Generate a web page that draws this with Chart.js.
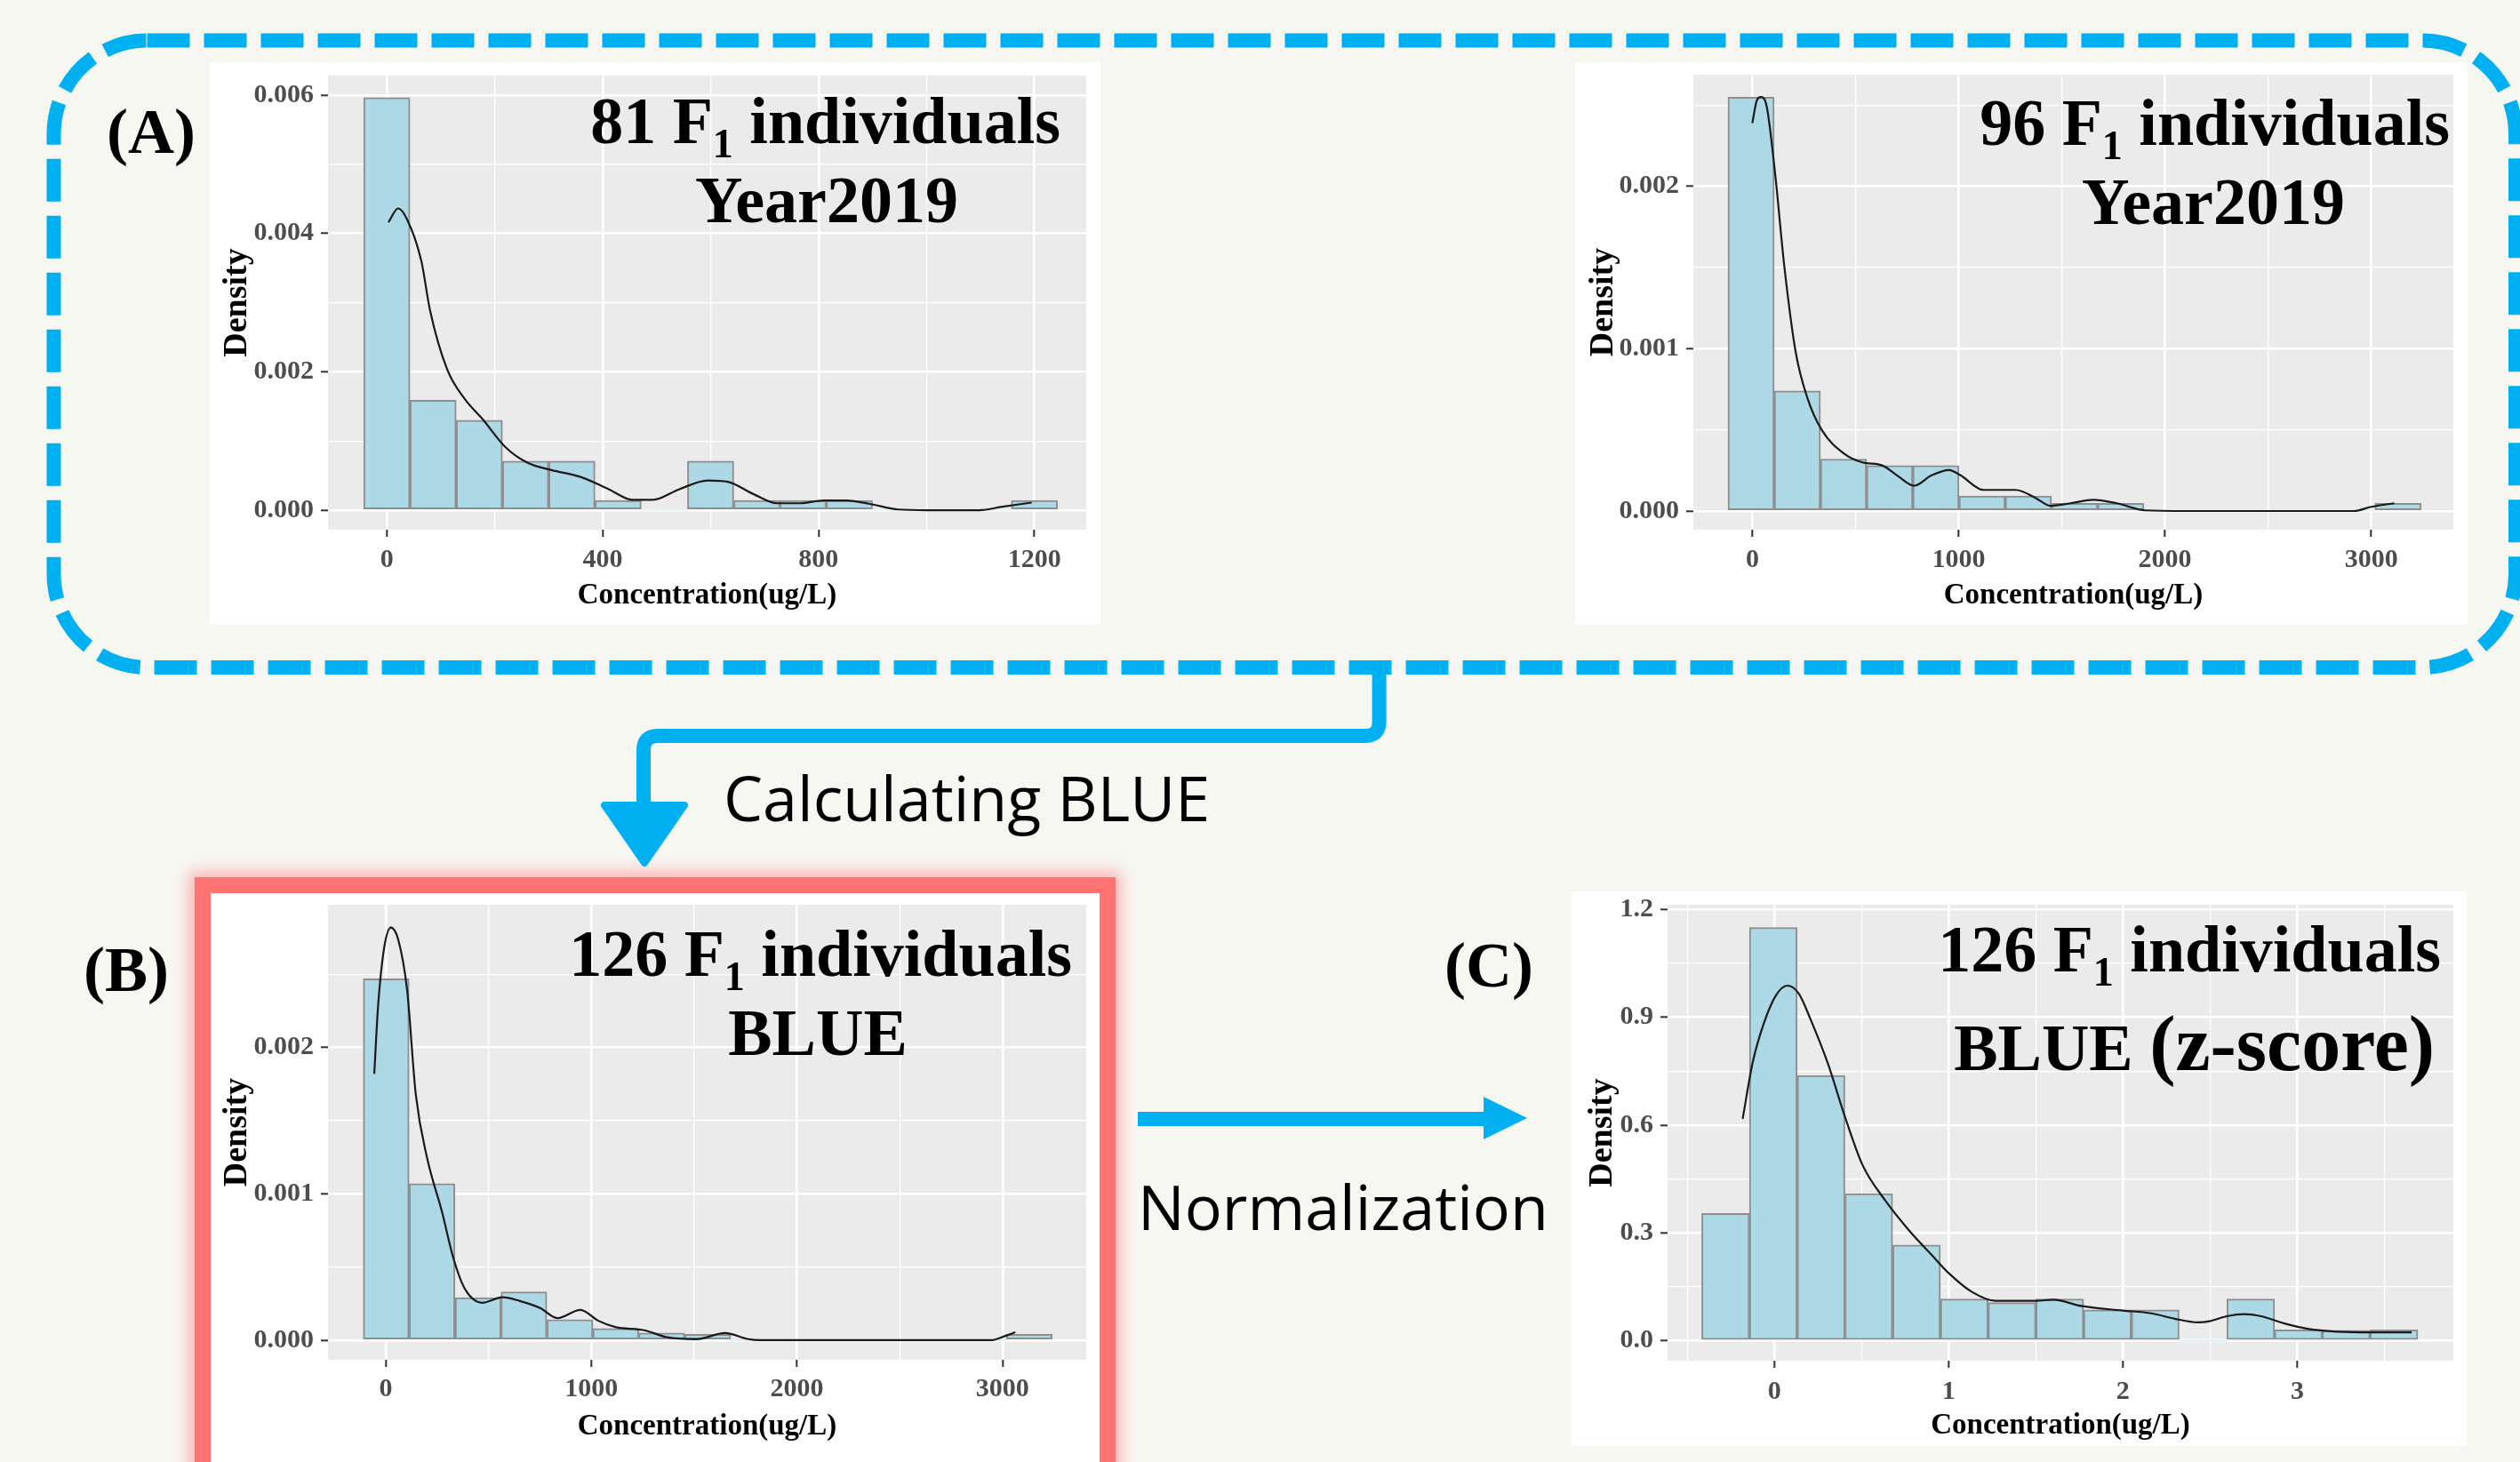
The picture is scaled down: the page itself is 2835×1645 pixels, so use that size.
<!DOCTYPE html>
<html>
<head>
<meta charset="utf-8">
<script src="https://cdn.jsdelivr.net/npm/chart.js@4.4.1/dist/chart.umd.min.js"></script>
<style>
  html, body { margin: 0; padding: 0; }
  body { width: 2835px; height: 1645px; position: relative; overflow: hidden; background: #F7F7F2; }
  .card { position: absolute; background: #fff; }
  canvas { position: absolute; }
  #redBox { position: absolute; left: 219px; top: 987px; width: 1036px; height: 690px; box-sizing: border-box;
            border: 18px solid #FF7373; background: #fff; box-shadow: 0 0 16px 6px rgba(255, 120, 120, 0.55); }
  #overlay { position: absolute; left: 0; top: 0; pointer-events: none; }
  .serif { font-family: "Liberation Serif", "Times New Roman", serif; font-weight: bold; fill: #000; }
  .sans { font-family: "Open Sans", sans-serif; fill: #000; }
</style>
</head>
<body>
<div class="card" style="left:236px;top:70px;width:1002px;height:633px"></div>
<div class="card" style="left:1772px;top:70px;width:1004px;height:633px"></div>
<div id="redBox"></div>
<div class="card" style="left:1768px;top:1003px;width:1007px;height:624px"></div>

<canvas id="chartA1" width="1002" height="648" style="left:236px;top:55px"></canvas>
<canvas id="chartA2" width="1004" height="649" style="left:1772px;top:54px"></canvas>
<canvas id="chartB" width="1000" height="647" style="left:237px;top:988px"></canvas>
<canvas id="chartC" width="1004" height="640" style="left:1772px;top:988px"></canvas>

<svg id="overlay" width="2835" height="1645" xmlns="http://www.w3.org/2000/svg">
  <!-- dashed frame around (A) -->
  <rect x="60.5" y="45.5" width="2769.5" height="705.5" rx="105" ry="105" fill="none"
        stroke="#00B0F0" stroke-width="16" stroke-dasharray="48 16"/>
  <!-- elbow connector down to (B) -->
  <path d="M1551.6 759 V812 Q1551.6 828 1536 828 H740 Q724 828 724 844 V908" fill="none"
        stroke="#00B0F0" stroke-width="16"/>
  <polygon points="680,906 770,906 725,971" fill="#00B0F0" stroke="#00B0F0" stroke-width="8" stroke-linejoin="round"/>
  <!-- arrow (B) -> (C) -->
  <line x1="1280" y1="1259" x2="1672" y2="1259" stroke="#00B0F0" stroke-width="16"/>
  <polygon points="1669,1234 1718,1258 1669,1282" fill="#00B0F0"/>

  <text class="serif" x="120" y="172" font-size="72">(A)</text>
  <text class="serif" x="94" y="1115" font-size="72">(B)</text>
  <text class="serif" x="1625" y="1110" font-size="72">(C)</text>
  <text class="sans" x="814" y="924" font-size="70">Calculating BLUE</text>
  <text class="sans" x="1280" y="1384" font-size="70">Normalization</text>

  <text class="serif" x="1193" y="161" font-size="74" text-anchor="end">81 F<tspan font-size="46" dy="16">1</tspan><tspan dy="-16"> individuals</tspan></text>
  <text class="serif" x="930" y="250" font-size="74" text-anchor="middle">Year2019</text>

  <text class="serif" x="2756" y="163" font-size="74" text-anchor="end">96 F<tspan font-size="46" dy="16">1</tspan><tspan dy="-16"> individuals</tspan></text>
  <text class="serif" x="2490" y="252" font-size="74" text-anchor="middle">Year2019</text>

  <text class="serif" x="1206" y="1098" font-size="74" text-anchor="end">126 F<tspan font-size="46" dy="16">1</tspan><tspan dy="-16"> individuals</tspan></text>
  <text class="serif" x="920" y="1187" font-size="74" text-anchor="middle">BLUE</text>

  <text class="serif" x="2746" y="1093" font-size="74" text-anchor="end">126 F<tspan font-size="46" dy="16">1</tspan><tspan dy="-16"> individuals</tspan></text>
  <text class="serif" x="2739" y="1204" font-size="74" text-anchor="end">BLUE <tspan font-size="88">(z-score)</tspan></text>
</svg>

<script>
// (A) left: 81 F1 individuals, Year2019
const binsA1 = [0, 85.7, 171.4, 257.1, 342.9, 428.6, 514.3, 600, 685.7, 771.4, 857.1, 942.9, 1028.6, 1114.3, 1200];
const densA1 = [0.00596, 0.00159, 0.0013, 0.00071, 0.00071, 0.00014, 0, 0.00071, 0.00014, 0.00014, 0.00014, 0, 0, 0, 0.00014];
const kdeA1x = [3, 21, 37, 64, 80, 112, 145, 177, 220, 262, 305, 359, 412, 455, 493, 541, 595, 632, 680, 723, 766, 809, 852, 895, 948, 1002, 1098, 1141, 1195];
const kdeA1y = [0.00416, 0.00436, 0.00421, 0.0036, 0.00289, 0.00203, 0.0016, 0.00132, 0.00091, 0.00068, 0.00058, 0.00048, 0.0003, 0.00015, 0.00015, 0.0003, 0.00043, 0.00041, 0.00023, 0.0001, 0.0001, 0.00014, 0.00014, 0.00009, 0.00001, 0, 0, 0.00005, 0.00011];
const xMajorA1 = [0, 400, 800, 1200];
const xMinorA1 = [200, 600, 1000];
const yMajorA1 = [0, 0.002, 0.004, 0.006];
const yMinorA1 = [0.001, 0.003, 0.005];

// (A) right: 96 F1 individuals, Year2019
const binsA2 = [-6, 218, 442, 666, 890, 1114, 1338, 1562, 1786, 2010, 2234, 2458, 2682, 2906, 3130];
const densA2 = [0.00255, 0.00074, 0.00032, 0.00028, 0.00028, 0.000092, 0.000092, 0.000047, 0.000047, 0, 0, 0, 0, 0, 0.000047];
const kdeA2x = [0, 22, 42, 70, 112, 154, 210, 266, 336, 449, 533, 631, 701, 785, 869, 953, 1009, 1121, 1276, 1374, 1444, 1542, 1654, 1766, 1906, 2103, 2916, 3000, 3112];
const kdeA2y = [0.00239, 0.00253, 0.00255, 0.00249, 0.00206, 0.00152, 0.00098, 0.0007, 0.0005, 0.00035, 0.0003, 0.00028, 0.00022, 0.000156, 0.00022, 0.000253, 0.00022, 0.00013, 0.00013, 0.00008, 0.000032, 0.000048, 0.000069, 0.000048, 0.000004, 0, 0, 0.000026, 0.000048];
const xMajorA2 = [0, 1000, 2000, 3000];
const xMinorA2 = [500, 1500, 2500];
const yMajorA2 = [0, 0.001, 0.002];
const yMinorA2 = [0.0005, 0.0015, 0.0025];

// (B): 126 F1 individuals, BLUE
const binsB = [2, 225, 449, 672, 896, 1119, 1342, 1566, 1789, 2013, 2236, 2459, 2683, 2906, 3130];
const densB = [0.00247, 0.00107, 0.00029, 0.00033, 0.00014, 0.00008, 0.00005, 0.00004, 0, 0, 0, 0, 0, 0, 0.00004];
const kdeBx = [-56, -37, -8, 25, 62, 104, 146, 202, 273, 329, 385, 469, 568, 652, 751, 835, 947, 1032, 1116, 1257, 1369, 1510, 1650, 1763, 1819, 2943, 3013, 3062];
const kdeBy = [0.00182, 0.00229, 0.00268, 0.00282, 0.00273, 0.00239, 0.00168, 0.00124, 0.00088, 0.00056, 0.00035, 0.000256, 0.000293, 0.000268, 0.00022, 0.000151, 0.000207, 0.000134, 0.00009, 0.000068, 0.00002, 0.000007, 0.000049, 0.000007, 0, 0, 0.000029, 0.000054];
const xMajorB = [0, 1000, 2000, 3000];
const xMinorB = [500, 1500, 2500];
const yMajorB = [0, 0.001, 0.002];
const yMinorB = [0.0005, 0.0015, 0.0025];

// (C): 126 F1 individuals, BLUE (z-score)
const binsC = [-0.281, -0.007, 0.267, 0.541, 0.815, 1.089, 1.363, 1.637, 1.911, 2.185, 2.459, 2.733, 3.007, 3.281, 3.555];
const densC = [0.354, 1.15, 0.738, 0.409, 0.266, 0.116, 0.106, 0.116, 0.086, 0.086, 0, 0.116, 0.03, 0.029, 0.03];
const kdeCx = [-0.183, -0.126, -0.06, 0.007, 0.073, 0.139, 0.206, 0.305, 0.405, 0.504, 0.637, 0.77, 0.903, 1.002, 1.135, 1.268, 1.5, 1.6, 1.766, 1.998, 2.164, 2.297, 2.43, 2.496, 2.595, 2.695, 2.794, 2.927, 3.06, 3.226, 3.425, 3.657];
const kdeCy = [0.617, 0.773, 0.885, 0.96, 0.988, 0.966, 0.895, 0.773, 0.622, 0.49, 0.389, 0.308, 0.238, 0.187, 0.135, 0.111, 0.111, 0.114, 0.096, 0.084, 0.076, 0.061, 0.051, 0.054, 0.068, 0.074, 0.068, 0.048, 0.033, 0.025, 0.023, 0.023];
const xMajorC = [0, 1, 2, 3];
const xMinorC = [-0.5, 0.5, 1.5, 2.5, 3.5];
const yMajorC = [0, 0.3, 0.6, 0.9, 1.2];
const yMinorC = [0.15, 0.45, 0.75, 1.05];

const SERIF = '"Liberation Serif", "Times New Roman", serif';

// grey ggplot panel behind the plot area
const panelBg = {
  id: 'panelBg',
  beforeDraw(chart) {
    const { ctx, chartArea: a } = chart;
    ctx.save();
    ctx.fillStyle = '#EBEBEB';
    ctx.fillRect(a.left, a.top, a.right - a.left, a.bottom - a.top);
    ctx.restore();
  }
};

function axis(o) {
  const all = o.major.concat(o.minor).sort((a, b) => a - b);
  const isMajor = c => c.tick && o.major.includes(c.tick.value);
  return {
    type: 'linear',
    min: o.min,
    max: o.max,
    offset: false,
    afterBuildTicks: s => { s.ticks = all.map(v => ({ value: v })); },
    afterFit: s => {
      if (o.width) s.width = o.width;
      if (o.height) s.height = o.height;
    },
    ticks: {
      autoSkip: false,
      maxRotation: 0,
      padding: o.tickPad,
      color: '#4D4D4D',
      font: { family: SERIF, size: 30, weight: 'bold' },
      callback: v => o.major.includes(v) ? (o.dec != null ? v.toFixed(o.dec) : String(v)) : ''
    },
    grid: {
      offset: false,
      color: '#FFFFFF',
      lineWidth: c => isMajor(c) ? 2.6 : 1.3,
      tickColor: c => isMajor(c) ? '#333333' : 'rgba(0,0,0,0)',
      tickLength: 8,
      tickWidth: 2
    },
    border: { display: false },
    title: {
      display: true,
      text: o.title,
      color: '#000',
      font: { family: SERIF, size: o.titleSize, weight: 'bold' },
      padding: o.titlePad
    }
  };
}

function histChart(id, d, lay) {
  return new Chart(document.getElementById(id), {
    type: 'bar',
    data: {
      datasets: [
        {
          type: 'line',
          data: d.kx.map((x, i) => ({ x, y: d.ky[i] })),
          borderColor: '#1A1A1A',
          borderWidth: 2.2,
          pointRadius: 0,
          fill: false,
          cubicInterpolationMode: 'monotone',
          order: 1
        },
        {
          type: 'bar',
          data: d.bins.map((x, i) => ({ x, y: d.dens[i] })),
          backgroundColor: '#ADD8E6',
          borderColor: '#8E8E8E',
          borderWidth: c => (c.raw && c.raw.y > 0 ? 2 : 0),
          borderSkipped: false,
          barPercentage: 1,
          categoryPercentage: 1,
          order: 2
        }
      ]
    },
    options: {
      responsive: false,
      animation: false,
      events: [],
      layout: { padding: { top: 30, right: lay.padRight, left: 0, bottom: 0 } },
      plugins: { legend: { display: false }, tooltip: { enabled: false } },
      scales: {
        x: axis({
          min: d.xRange[0], max: d.xRange[1], major: d.xMajor, minor: d.xMinor,
          height: lay.xH, tickPad: lay.xTickPad, title: 'Concentration(ug/L)', titleSize: 33,
          titlePad: { top: 0, bottom: lay.xTitlePad }
        }),
        y: axis({
          min: d.yRange[0], max: d.yRange[1], major: d.yMajor, minor: d.yMinor, dec: d.yDec,
          width: lay.yW, tickPad: 8, title: 'Density', titleSize: 38,
          titlePad: { top: lay.yTitlePad, bottom: 0 }
        })
      }
    },
    plugins: [panelBg]
  });
}

histChart('chartA1',
  { bins: binsA1, dens: densA1, kx: kdeA1x, ky: kdeA1y, xMajor: xMajorA1, xMinor: xMinorA1,
    yMajor: yMajorA1, yMinor: yMinorA1, yDec: 3, xRange: [-109, 1296], yRange: [-0.000282, 0.00628] },
  { padRight: 16, yW: 133, xH: 107, xTickPad: 8, xTitlePad: 13, yTitlePad: 8 });

histChart('chartA2',
  { bins: binsA2, dens: densA2, kx: kdeA2x, ky: kdeA2y, xMajor: xMajorA2, xMinor: xMinorA2,
    yMajor: yMajorA2, yMinor: yMinorA2, yDec: 3, xRange: [-286, 3398], yRange: [-0.000115, 0.002688] },
  { padRight: 16, yW: 133, xH: 107, xTickPad: 8, xTitlePad: 13, yTitlePad: 9 });

histChart('chartB',
  { bins: binsB, dens: densB, kx: kdeBx, ky: kdeBy, xMajor: xMajorB, xMinor: xMinorB,
    yMajor: yMajorB, yMinor: yMinorB, yDec: 3, xRange: [-281, 3407], yRange: [-0.000134, 0.002976] },
  { padRight: 15, yW: 132, xH: 105, xTickPad: 7, xTitlePad: 10, yTitlePad: 7 });

histChart('chartC',
  { bins: binsC, dens: densC, kx: kdeCx, ky: kdeCy, xMajor: xMajorC, xMinor: xMinorC,
    yMajor: yMajorC, yMinor: yMinorC, yDec: 1, xRange: [-0.614, 3.896], yRange: [-0.0556, 1.213] },
  { padRight: 16, yW: 104, xH: 97, xTickPad: 9, xTitlePad: 4, yTitlePad: 8 });
</script>
</body>
</html>
